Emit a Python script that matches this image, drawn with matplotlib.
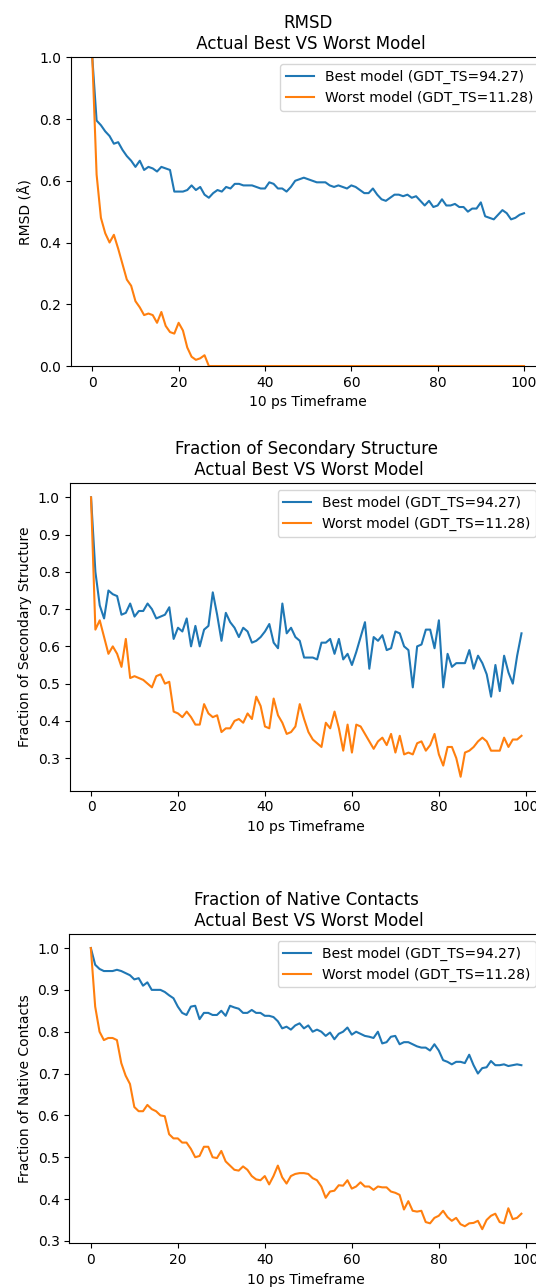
import matplotlib
matplotlib.use("Agg")
import matplotlib.pyplot as plt

# RMSD (101 frames, 0..100)
rmsd_best = [
    1.0, 0.795, 0.78, 0.76, 0.745, 0.72, 0.725, 0.70, 0.68, 0.665,
    0.645, 0.665, 0.635, 0.645, 0.64, 0.63, 0.645, 0.64, 0.635, 0.565,
    0.565, 0.565, 0.57, 0.585, 0.57, 0.58, 0.555, 0.545, 0.56, 0.57,
    0.565, 0.58, 0.575, 0.59, 0.59, 0.585, 0.585, 0.585, 0.58, 0.575,
    0.575, 0.595, 0.59, 0.575, 0.575, 0.565, 0.58, 0.60, 0.605, 0.61,
    0.605, 0.60, 0.595, 0.595, 0.595, 0.585, 0.58, 0.585, 0.58, 0.575,
    0.585, 0.58, 0.57, 0.56, 0.56, 0.575, 0.555, 0.54, 0.535, 0.545,
    0.555, 0.555, 0.55, 0.555, 0.545, 0.55, 0.535, 0.52, 0.535, 0.515,
    0.52, 0.54, 0.52, 0.52, 0.525, 0.515, 0.515, 0.50, 0.51, 0.51,
    0.53, 0.485, 0.48, 0.475, 0.49, 0.505, 0.495, 0.475, 0.48, 0.49,
    0.495,
]
rmsd_worst = [
    1.0, 0.62, 0.48, 0.43, 0.40, 0.425, 0.38, 0.33, 0.28, 0.26,
    0.21, 0.19, 0.165, 0.17, 0.165, 0.14, 0.175, 0.13, 0.11, 0.105,
    0.14, 0.115, 0.06, 0.03, 0.02, 0.025, 0.035, 0.0, 0.0, 0.0,
] + [0.0] * 71

# Fraction of secondary structure (100 frames, 0..99)
ss_best = [
    1.0, 0.80, 0.71, 0.675, 0.75, 0.74, 0.735, 0.685, 0.69, 0.715,
    0.68, 0.695, 0.695, 0.715, 0.70, 0.675, 0.68, 0.685, 0.705, 0.62,
    0.65, 0.64, 0.675, 0.60, 0.655, 0.60, 0.645, 0.655, 0.745, 0.685,
    0.615, 0.69, 0.665, 0.65, 0.625, 0.65, 0.64, 0.61, 0.615, 0.625,
    0.64, 0.66, 0.61, 0.595, 0.715, 0.635, 0.65, 0.625, 0.615, 0.57,
    0.57, 0.57, 0.565, 0.61, 0.61, 0.62, 0.58, 0.62, 0.565, 0.58,
    0.55, 0.585, 0.625, 0.665, 0.54, 0.625, 0.615, 0.63, 0.59, 0.595,
    0.64, 0.635, 0.60, 0.59, 0.49, 0.60, 0.605, 0.645, 0.645, 0.595,
    0.67, 0.49, 0.58, 0.545, 0.555, 0.555, 0.555, 0.59, 0.54, 0.575,
    0.555, 0.525, 0.465, 0.55, 0.48, 0.575, 0.53, 0.50, 0.575, 0.635,
]
ss_worst = [
    1.0, 0.645, 0.67, 0.625, 0.58, 0.60, 0.58, 0.545, 0.62, 0.515,
    0.52, 0.515, 0.51, 0.50, 0.49, 0.52, 0.525, 0.50, 0.505, 0.425,
    0.42, 0.41, 0.425, 0.41, 0.39, 0.39, 0.445, 0.42, 0.41, 0.415,
    0.37, 0.38, 0.38, 0.40, 0.405, 0.395, 0.42, 0.405, 0.465, 0.44,
    0.385, 0.38, 0.46, 0.415, 0.395, 0.365, 0.37, 0.385, 0.445, 0.405,
    0.37, 0.35, 0.34, 0.33, 0.395, 0.38, 0.425, 0.38, 0.32, 0.39,
    0.315, 0.39, 0.385, 0.365, 0.345, 0.325, 0.345, 0.355, 0.335, 0.365,
    0.315, 0.36, 0.31, 0.315, 0.31, 0.34, 0.345, 0.32, 0.335, 0.365,
    0.31, 0.28, 0.33, 0.33, 0.30, 0.25, 0.315, 0.32, 0.33, 0.345,
    0.355, 0.345, 0.32, 0.32, 0.32, 0.355, 0.33, 0.35, 0.35, 0.36,
]

# Fraction of native contacts (100 frames, 0..99)
nc_best = [
    1.0, 0.96, 0.95, 0.945, 0.945, 0.945, 0.948, 0.945, 0.94, 0.935,
    0.925, 0.928, 0.91, 0.918, 0.90, 0.90, 0.90, 0.895, 0.887, 0.88,
    0.86, 0.845, 0.84, 0.86, 0.862, 0.83, 0.845, 0.845, 0.84, 0.84,
    0.85, 0.838, 0.862, 0.858, 0.855, 0.845, 0.845, 0.852, 0.845, 0.845,
    0.838, 0.838, 0.835, 0.825, 0.808, 0.812, 0.805, 0.815, 0.82, 0.808,
    0.815, 0.80, 0.805, 0.80, 0.79, 0.798, 0.782, 0.795, 0.80, 0.81,
    0.793, 0.80, 0.795, 0.79, 0.788, 0.785, 0.80, 0.772, 0.775, 0.788,
    0.79, 0.77, 0.775, 0.775, 0.77, 0.765, 0.762, 0.762, 0.755, 0.77,
    0.755, 0.732, 0.728, 0.722, 0.728, 0.728, 0.725, 0.745, 0.72, 0.70,
    0.713, 0.715, 0.73, 0.72, 0.72, 0.722, 0.718, 0.72, 0.722, 0.72,
]
nc_worst = [
    1.0, 0.86, 0.80, 0.78, 0.785, 0.785, 0.78, 0.725, 0.695, 0.675,
    0.62, 0.61, 0.61, 0.625, 0.615, 0.61, 0.60, 0.598, 0.555, 0.545,
    0.545, 0.535, 0.535, 0.52, 0.50, 0.503, 0.525, 0.525, 0.50, 0.498,
    0.515, 0.49, 0.48, 0.47, 0.468, 0.478, 0.47, 0.455, 0.447, 0.445,
    0.455, 0.435, 0.455, 0.48, 0.452, 0.437, 0.455, 0.46, 0.462, 0.462,
    0.46, 0.45, 0.445, 0.43, 0.403, 0.418, 0.42, 0.433, 0.432, 0.445,
    0.425, 0.43, 0.44, 0.43, 0.43, 0.422, 0.43, 0.428, 0.428, 0.418,
    0.415, 0.41, 0.375, 0.395, 0.372, 0.37, 0.372, 0.345, 0.342, 0.355,
    0.36, 0.372, 0.357, 0.348, 0.355, 0.34, 0.335, 0.342, 0.343, 0.348,
    0.328, 0.35, 0.36, 0.365, 0.345, 0.342, 0.378, 0.352, 0.355, 0.365,
]

best_label = 'Best model (GDT_TS=94.27)'
worst_label = 'Worst model (GDT_TS=11.28)'

panels = [
    ('RMSD', 'RMSD (Å)', rmsd_best, rmsd_worst),
    ('Fraction of Secondary Structure', 'Fraction of Secondary Structure', ss_best, ss_worst),
    ('Fraction of Native Contacts', 'Fraction of Native Contacts', nc_best, nc_worst),
]

# axes boxes in figure fractions (right edge runs past the figure, like the cropped original)
boxes = [
    [0.1319, 0.7156, 0.886, 0.2399],
    [0.1297, 0.3856, 0.8834, 0.2388],
    [0.1293, 0.0340, 0.8836, 0.2403],
]

fig = plt.figure(figsize=(5.36, 12.87), dpi=100)

for (name, ylab, best, worst), box in zip(panels, boxes):
    ax = fig.add_axes(box)
    ax.plot(range(len(best)), best, label=best_label)
    ax.plot(range(len(worst)), worst, label=worst_label)
    ax.set_title(name + '\n Actual Best VS Worst Model')
    ax.set_xlabel('10 ps Timeframe')
    ax.set_ylabel(ylab)
    ax.legend(loc='upper right')
    if name == 'RMSD':
        ax.set_ylim(0, 1)

fig.savefig('out.png', dpi=100)
